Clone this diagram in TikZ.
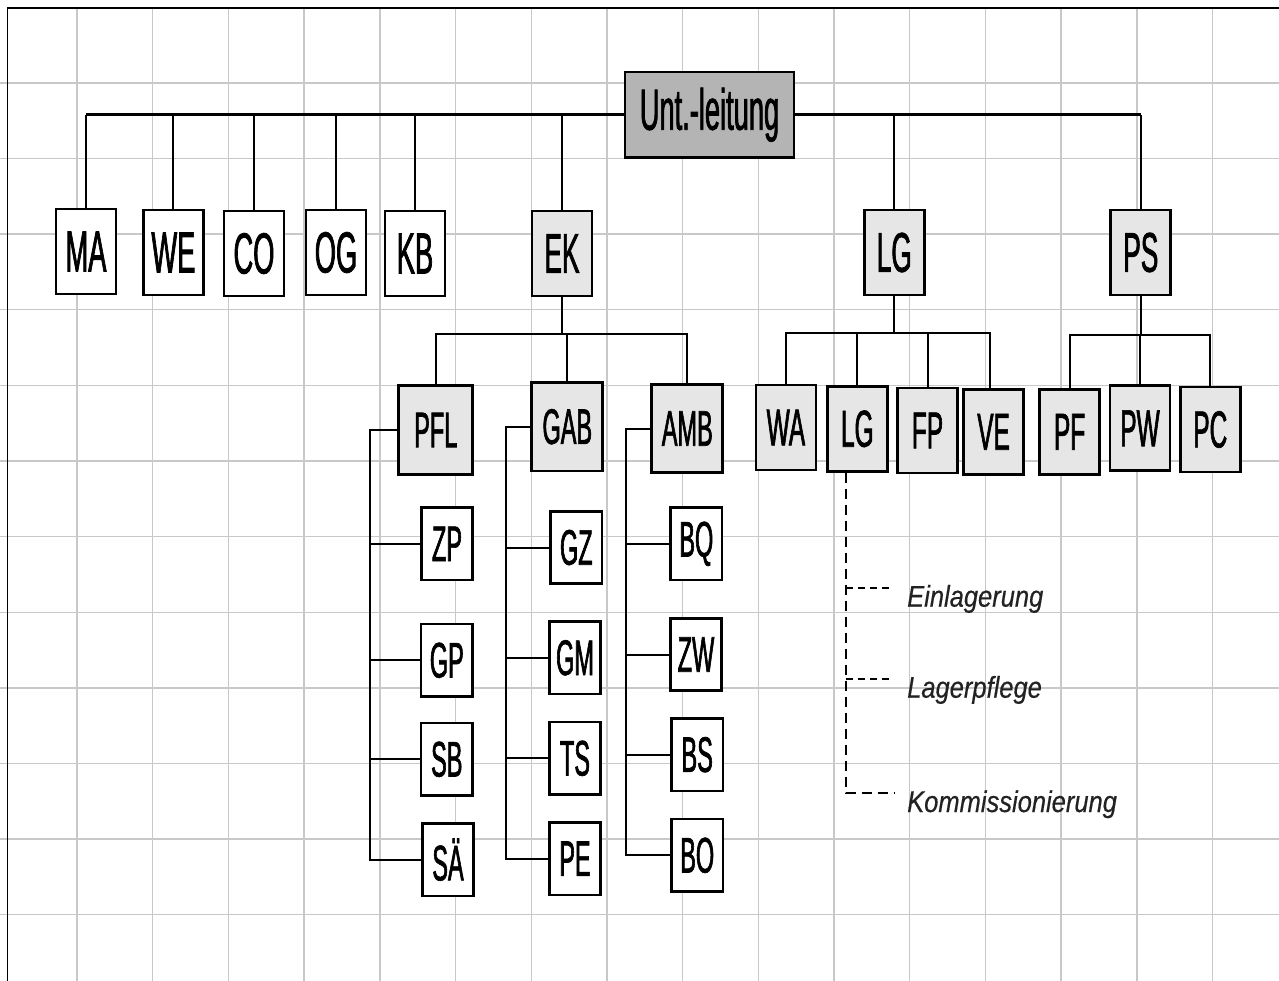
\documentclass[tikz,border=0pt]{standalone}
\usepackage{fontspec}
\setmainfont{Liberation Sans}
\newfontfamily\boxfont[FakeStretch=0.47,FakeBold=1.2]{Liberation Sans}
\newfontfamily\labfont[FakeStretch=0.85,FakeBold=0.4]{Liberation Sans}
\usetikzlibrary{calc}
\definecolor{gridgray}{HTML}{C8C8C8}
\definecolor{darkfill}{HTML}{B4B4B4}
\definecolor{lightfill}{HTML}{E6E6E6}
\definecolor{labtext}{HTML}{222222}
\tikzset{
  gridline/.style={draw=gridgray, line width=1.4pt},
  frame/.style={draw=black, line width=1.5pt},
  box/.style={draw=black, line width=2.7pt, fill=white, inner sep=0pt,
    minimum width=60pt, minimum height=85pt,
    font={\boxfont\fontsize{58}{60}\selectfont}},
  dark/.style={fill=darkfill},
  light/.style={fill=lightfill},
  fsix/.style={font={\boxfont\fontsize{56}{58}\selectfont}},
  ftwo/.style={font={\boxfont\fontsize{52}{54}\selectfont}},
  ffifty/.style={font={\boxfont\fontsize{50}{52}\selectfont}},
  midbox/.style={box, light, ffifty, minimum width=71pt, minimum height=88.5pt},
  leafbox/.style={box, ffifty, minimum width=51.4pt, minimum height=72.5pt},
  lgrow/.style={box, light, ftwo, minimum width=60pt, minimum height=85pt},
  mainline/.style={draw=black, line width=2.6pt},
  conn/.style={draw=black, line width=2pt},
  dashv/.style={draw=black, line width=2pt, dash pattern=on 10pt off 6pt},
  dashh/.style={draw=black, line width=2pt, dash pattern=on 7pt off 5pt},
  lab/.style={inner sep=0pt, text=labtext, font={\labfont\itshape\fontsize{30}{32}\selectfont}}
}
\begin{document}
\begin{tikzpicture}[x=1pt,y=-1pt]
\useasboundingbox (0,0) rectangle (1279,981);
% grid
\foreach \i in {0,...,15} \draw[gridline] ({77+75.7*\i},8) -- ({77+75.7*\i},981);
\foreach \j in {0,...,11} \draw[gridline] (0,{83+75.6*\j}) -- (1279,{83+75.6*\j});
\draw[frame] (7.5,981) -- (7.5,8) -- (1279,8);

% top
\node[box, dark, minimum width=169pt, minimum height=85.5pt] (U) at (709.5,114.75) {Unt.-leitung};
\node[box] (MA) at (86,251.5) {MA};
\node[box] (WE) at (173.4,252.5) {WE};
\node[box] (CO) at (254,253.5) {CO};
\node[box] (OG) at (336,252.5) {OG};
\node[box] (KB) at (415,253.5) {KB};
\node[box, light, fsix] (EK) at (562,253.5) {EK};
\node[box, light, fsix] (LG) at (894.3,252.5) {LG};
\node[box, light, fsix] (PS) at (1140.8,252.5) {PS};

% EK children
\node[midbox, minimum width=74pt] (PFL) at (435.7,430) {PFL};
\node[midbox] (GAB) at (567.3,426.7) {GAB};
\node[midbox] (AMB) at (687.3,428.5) {AMB};
\node[leafbox] (ZP) at (447,543.8) {ZP};
\node[leafbox] (GP) at (446.8,660.3) {GP};
\node[leafbox] (SB) at (446.8,759.3) {SB};
\node[leafbox] (SA) at (448,859.7) {SÄ};
\node[leafbox] (GZ) at (576.3,547.5) {GZ};
\node[leafbox] (GM) at (575,657.8) {GM};
\node[leafbox] (TS) at (575,758.3) {TS};
\node[leafbox] (PE) at (575,858.7) {PE};
\node[leafbox] (BQ) at (696.3,543.8) {BQ};
\node[leafbox] (ZW) at (696,654.5) {ZW};
\node[leafbox] (BS) at (697.2,754.7) {BS};
\node[leafbox] (BO) at (697.2,855.3) {BO};

% LG / PS children
\node[lgrow] (WA) at (785.9,427.5) {WA};
\node[lgrow] (LGB) at (857.3,428.8) {LG};
\node[lgrow] (FP) at (927.5,430.5) {FP};
\node[lgrow] (VE) at (993.6,431.8) {VE};
\node[lgrow] (PF) at (1069.6,431.8) {PF};
\node[lgrow] (PW) at (1140,428.3) {PW};
\node[lgrow] (PC) at (1210.3,429.5) {PC};

% main line
\draw[mainline] (U.west) -- (U.west -| MA.north);
\draw[mainline] (U.east) -- (U.east -| PS.north);
\foreach \n in {MA,WE,CO,OG,KB,EK,LG,PS}
  \draw[conn] (\n.north) -- (\n.north |- U.west);

% EK bracket
\coordinate (ekbar) at (563,334.3);
\draw[conn] (EK.south) -- (EK.south |- ekbar);
\draw[conn] (PFL.north) |- (ekbar) -| (AMB.north);
\draw[conn] (GAB.north) -- (GAB.north |- ekbar);

% side brackets
\coordinate (pflx) at (370,0);
\coordinate (gabx) at (505.7,0);
\coordinate (ambx) at (626.3,0);
\draw[conn] (PFL.west) -| (pflx |- SA.west) -- (SA.west);
\foreach \n in {ZP,GP,SB} \draw[conn] (\n.west) -- (\n.west -| pflx);
\draw[conn] (GAB.west) -| (gabx |- PE.west) -- (PE.west);
\foreach \n in {GZ,GM,TS} \draw[conn] (\n.west) -- (\n.west -| gabx);
\draw[conn] (AMB.west) -| (ambx |- BO.west) -- (BO.west);
\foreach \n in {BQ,ZW,BS} \draw[conn] (\n.west) -- (\n.west -| ambx);

% LG bracket
\coordinate (lgbar) at (893,333.3);
\draw[conn] (LG.south) -- (LG.south |- lgbar);
\draw[conn] (WA.north) |- (lgbar) -| ([xshift=-3.8pt]VE.north);
\draw[conn] (LGB.north) -- (LGB.north |- lgbar);
\draw[conn] (FP.north) -- (FP.north |- lgbar);

% PS bracket
\coordinate (psbar) at (1141,335.3);
\draw[conn] (PS.south) -- (PS.south |- psbar);
\draw[conn] (PF.north) |- (psbar) -| (PC.north);
\draw[conn] (PW.north) -- (PW.north |- psbar);

% dashed sub-tasks
\coordinate (dtop) at ([xshift=-11pt]LGB.south);
\coordinate (d1) at (894,588);
\coordinate (d2) at (894,679.3);
\coordinate (d3) at (894,793.3);
\draw[dashv] (dtop) |- (d3);
\draw[dashh] (d1 -| dtop) -- (d1);
\draw[dashh] (d2 -| dtop) -- (d2);
\node[lab, anchor=base west] (L1) at (907,606.7) {Einlagerung};
\node[lab, anchor=base west] (L2) at (907,697.7) {Lagerpflege};
\node[lab, anchor=base west] (L3) at (907,812) {Kommissionierung};
\end{tikzpicture}
\end{document}
